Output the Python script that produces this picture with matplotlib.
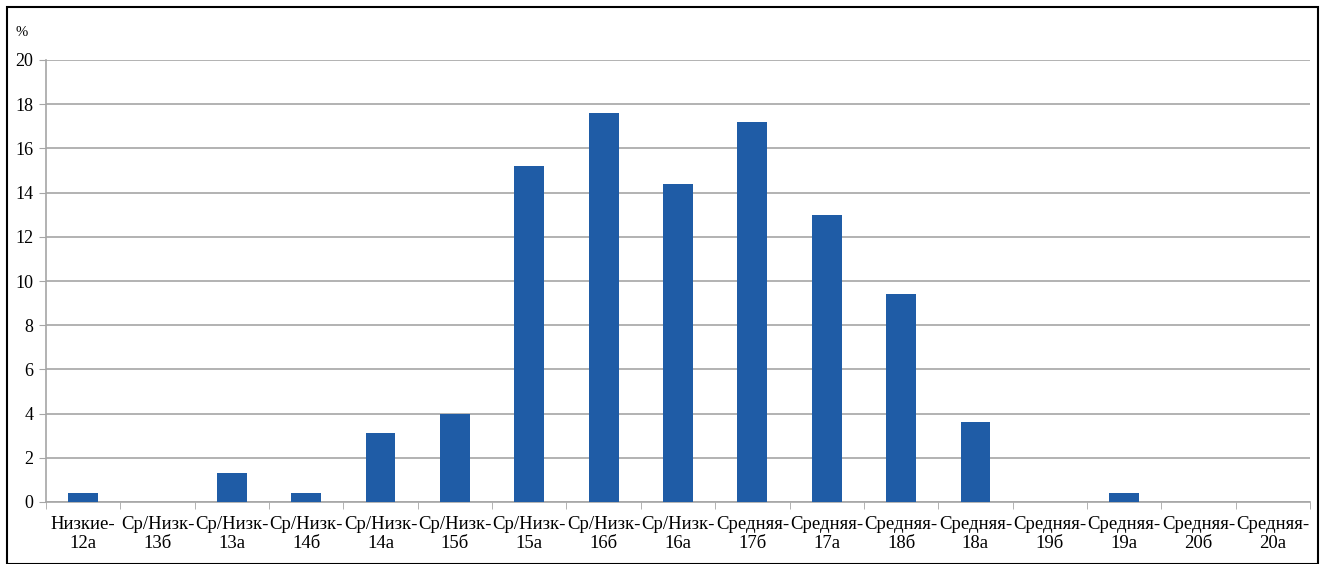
import matplotlib.pyplot as plt
from matplotlib.patches import Rectangle
import numpy as np

plt.rcParams['font.family'] = ['Liberation Serif', 'DejaVu Serif']

labels = ["Низкие-\n12а", "Ср/Низк-\n13б", "Ср/Низк-\n13а", "Ср/Низк-\n14б",
          "Ср/Низк-\n14а", "Ср/Низк-\n15б", "Ср/Низк-\n15а", "Ср/Низк-\n16б",
          "Ср/Низк-\n16а", "Средняя-\n17б", "Средняя-\n17а", "Средняя-\n18б",
          "Средняя-\n18а", "Средняя-\n19б", "Средняя-\n19а", "Средняя-\n20б",
          "Средняя-\n20а"]
values = [0.4, 0, 1.3, 0.4, 3.1, 4.0, 15.2, 17.6, 14.4, 17.2, 13.0, 9.4,
          3.6, 0, 0.4, 0, 0]
yticks = [0, 2, 4, 6, 8, 10, 12, 14, 16, 18, 20]

fig = plt.figure(figsize=(13.23, 5.64), dpi=100)
ax = fig.add_axes([46 / 1323, 1 - 502 / 564, (1310 - 46) / 1323, (502 - 60) / 564])

# outer frame
fig.patches.append(Rectangle((7 / 1323, 0), (1318 - 7) / 1323, 1 - 7 / 564,
                             transform=fig.transFigure, fill=False,
                             edgecolor='black', linewidth=1.5))

x = np.arange(len(values))
ax.bar(x, values, width=0.4, color='#1f5ca6', zorder=3)

ax.set_xlim(-0.5, len(values) - 0.5)
ax.set_ylim(0, 20)
ax.set_yticks(yticks)
ax.yaxis.grid(True, color='#a6a6a6', linewidth=1.2, zorder=0)

ax.set_xticks(x)
ax.set_xticklabels(labels, fontsize=13.5, linespacing=1.15)
ax.tick_params(axis='x', which='major', length=0, pad=10)
ax.set_xticks(np.arange(len(values) + 1) - 0.5, minor=True)
ax.tick_params(axis='x', which='minor', length=5, color='#a6a6a6')
ax.tick_params(axis='y', length=5, color='#a6a6a6', labelsize=13, pad=4)

for s in ['top', 'right']:
    ax.spines[s].set_visible(False)
for s in ['left', 'bottom']:
    ax.spines[s].set_color('#a6a6a6')
    ax.spines[s].set_linewidth(1.2)

fig.text(15 / 1323, 1 - 33 / 564, "%", fontsize=10.5, va='center', ha='left')

fig.savefig('out.png', dpi=100)
